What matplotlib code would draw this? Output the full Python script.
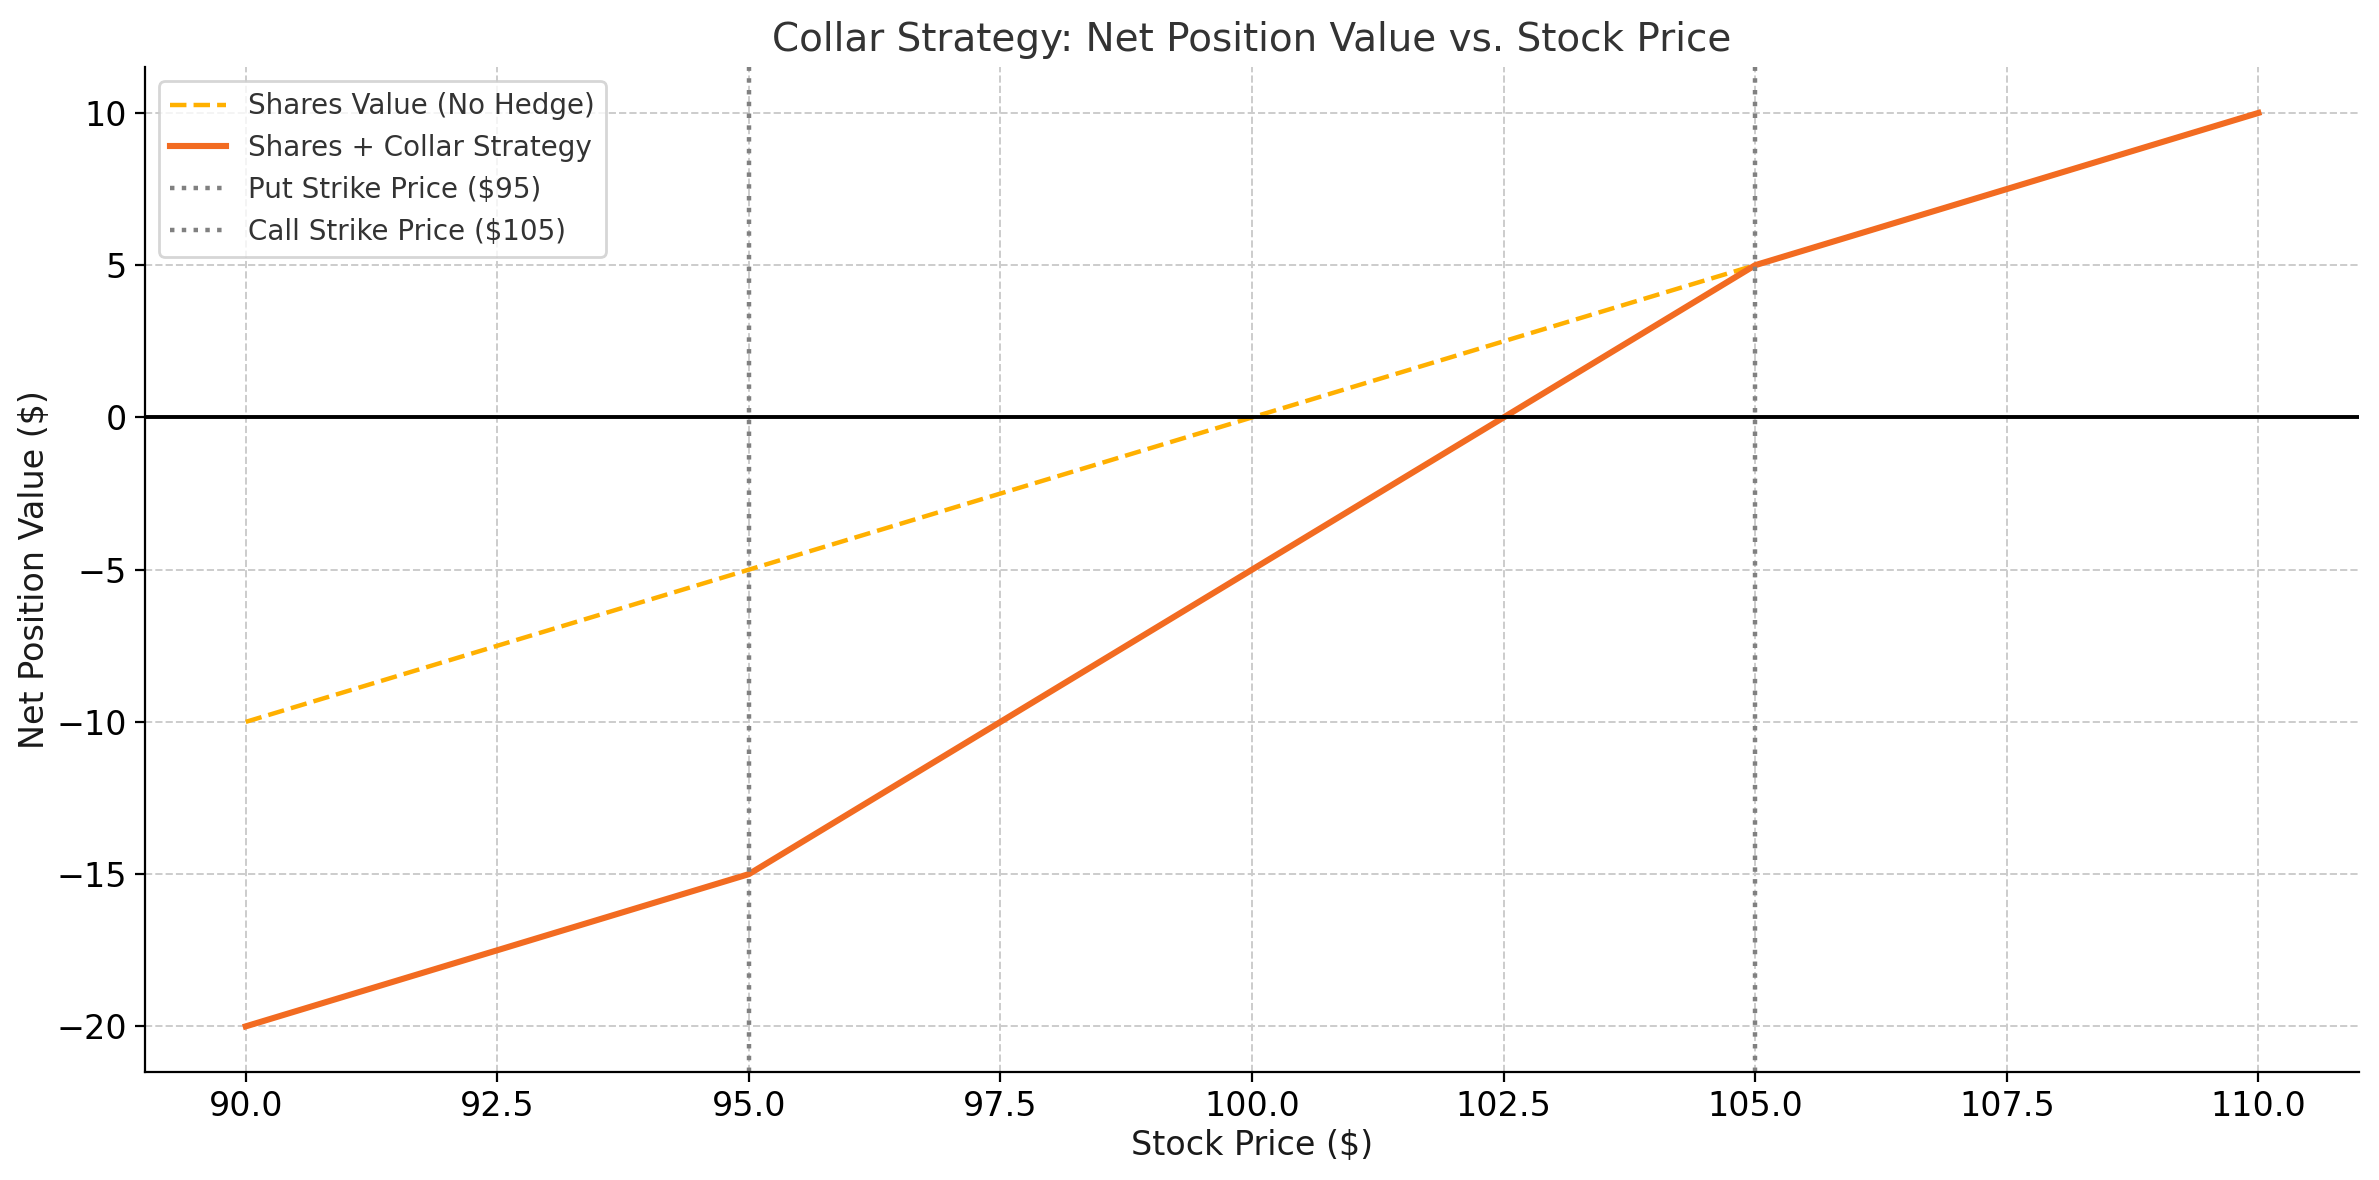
import matplotlib
matplotlib.use("Agg")
import matplotlib.pyplot as plt

# Data
stock_price = [90.0, 95.0, 100.0, 105.0, 110.0]
shares_value = [-10.0, -5.0, 0.0, 5.0, 10.0]
collar_value = [-20.0, -15.0, -5.0, 5.0, 10.0]
put_strike = 95
call_strike = 105

fig = plt.figure(figsize=(2379/200, 1180/200), dpi=200)
ax = fig.add_axes([0.061, 0.0915, 0.9306, 0.8515])

ax.plot(stock_price, shares_value, linestyle='--', color='#FFB000', lw=1.6,
        label='Shares Value (No Hedge)')
ax.plot(stock_price, collar_value, color='#F26B21', lw=2.2,
        label='Shares + Collar Strategy')
ax.axhline(0, color='black', lw=1.4)
ax.axvline(put_strike, color='gray', linestyle=':', lw=1.6,
           label='Put Strike Price ($95)')
ax.axvline(call_strike, color='gray', linestyle=':', lw=1.6,
           label='Call Strike Price ($105)')

ax.set_title('Collar Strategy: Net Position Value vs. Stock Price',
             fontsize=14, color='#333333')
ax.set_xlabel('Stock Price ($)', fontsize=12, color='#1a1a1a', labelpad=2)
ax.set_ylabel('Net Position Value ($)', fontsize=12, color='#1a1a1a', labelpad=2)
ax.tick_params(labelsize=12, pad=3)
ax.grid(True, linestyle='--', color='#cccccc', lw=0.7)
ax.spines['top'].set_visible(False)
ax.spines['right'].set_visible(False)
ax.legend(loc='upper left', fontsize=10, labelcolor='#333333', edgecolor='#cccccc')

fig.savefig('out.png', dpi=200)
